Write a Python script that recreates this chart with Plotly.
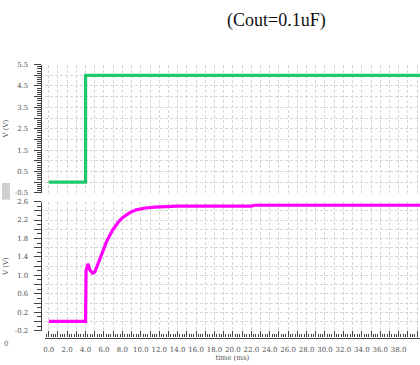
import plotly.graph_objects as go

# ---- data -------------------------------------------------------------
# Input step (green) and output voltage (magenta), time in ms
t_in = [0.0, 4.0, 4.0, 41.0]
v_in = [0.0, 0.0, 5.0, 5.0]

t_out = [0.0, 4.0, 4.05, 4.25, 4.45, 4.75, 5.0, 5.3, 5.6, 5.9, 6.3, 6.9, 7.5,
         8.0, 8.8, 9.5, 10.5, 11.5, 12.5, 14.0, 16.0, 22.0, 22.3, 41.0]
v_out = [0.0, 0.0, 1.10, 1.25, 1.12, 1.05, 1.07, 1.22, 1.38, 1.54, 1.74, 1.97,
         2.14, 2.25, 2.36, 2.42, 2.46, 2.48, 2.49, 2.50, 2.50, 2.50, 2.52, 2.52]

# tick positions / labels
x_tickvals = [float(i) for i in range(0, 42)]
x_ticktext = [f"{v:.1f}" if i % 2 == 0 else "" for i, v in enumerate(x_tickvals)]

top_tickvals = [-0.5, 0.0, 0.5, 1.0, 1.5, 2.0, 2.5, 3.0, 3.5, 4.0, 4.5, 5.0, 5.5]
top_ticktext = ["-0.5", "", "0.5", "", "1.5", "", "2.5", "", "3.5", "", "4.5", "", "5.5"]

bot_tickvals = [-0.2, 0.0, 0.2, 0.4, 0.6, 0.8, 1.0, 1.2, 1.4, 1.6, 1.8, 2.0, 2.2, 2.4, 2.6]
bot_ticktext = ["-0.2", "", "0.2", "", "0.6", "", "1.0", "", "1.4", "", "1.8", "", "2.2", "", "2.6"]

TITLE = "(Cout=0.1uF)"

# ---- geometry helpers (pixels -> paper fractions) ---------------------
W, H = 420, 365


def fx(p):
    return p / W


def fy(p):
    return 1 - p / H


GRID = "#d6d6d6"
AXC = "#444444"
LBL = "#505050"
TICKFONT = dict(family="DejaVu Serif", size=7, color=LBL)
TITLEFONT = dict(family="DejaVu Serif", size=7, color=LBL)

fig = go.Figure()
fig.add_trace(go.Scatter(x=t_out, y=v_out, mode="lines", xaxis="x", yaxis="y",
                         line=dict(color="#ff00ff", width=3.2), showlegend=False,
                         hoverinfo="skip"))
fig.add_trace(go.Scatter(x=t_in, y=v_in, mode="lines", xaxis="x2", yaxis="y2",
                         line=dict(color="#1ec86c", width=3.2), showlegend=False,
                         hoverinfo="skip"))

x_dom = [fx(43), 1.0]
x_rng = [-0.43, 40.32]

yax_common = dict(
    anchor="free", position=fx(39), tickmode="array",
    showgrid=True, gridcolor=GRID, griddash="3px,2px", gridwidth=1,
    zeroline=False, showline=True, linecolor=AXC, linewidth=1.2,
    ticks="outside", ticklen=7, tickcolor=AXC, tickwidth=1,
    ticklabelstandoff=4, tickangle=0,
    tickfont=TICKFONT,
    title=dict(text="V (V)", font=TITLEFONT, standoff=4),
)

fig.update_layout(
    width=W, height=H,
    margin=dict(l=0, r=0, t=0, b=0),
    paper_bgcolor="white", plot_bgcolor="white",
    xaxis=dict(
        domain=x_dom, range=x_rng, anchor="free", position=fy(341),
        tickmode="array", tickvals=x_tickvals, ticktext=x_ticktext,
        showgrid=True, gridcolor=GRID, griddash="3px,2px", gridwidth=1,
        zeroline=False, showline=True, linecolor=AXC, linewidth=1.2,
        ticks="inside", ticklen=6, tickcolor=AXC, tickwidth=1,
        minor=dict(dtick=0.25, ticks="inside", ticklen=3, tickcolor=AXC,
                   showgrid=False),
        ticklabelstandoff=5, tickangle=0,
        tickfont=TICKFONT,
        title=dict(text="time (ms)", font=TITLEFONT, standoff=1),
    ),
    yaxis=dict(
        domain=[fy(334), fy(202)], range=[-0.2, 2.6],
        tickvals=bot_tickvals, ticktext=bot_ticktext,
        minor=dict(dtick=0.1, ticks="outside", ticklen=4, tickcolor=AXC,
                   showgrid=False),
        **yax_common,
    ),
    xaxis2=dict(
        domain=x_dom, range=x_rng, anchor="y2", matches="x",
        tickmode="array", tickvals=x_tickvals,
        showgrid=True, gridcolor=GRID, griddash="3px,2px", gridwidth=1,
        zeroline=False, showline=False, ticks="", showticklabels=False,
    ),
    yaxis2=dict(
        domain=[fy(193), fy(62)], range=[-0.5, 5.5],
        tickvals=top_tickvals, ticktext=top_ticktext,
        minor=dict(dtick=0.1, ticks="outside", ticklen=4, tickcolor=AXC,
                   showgrid=False),
        **yax_common,
    ),
    annotations=[
        dict(text=TITLE, x=fx(276), y=fy(17), xref="paper", yref="paper",
             showarrow=False, xanchor="center", yanchor="middle",
             font=dict(family="Liberation Serif", size=18, color="#111111")),
        dict(text="0", x=fx(4), y=fy(348), xref="paper", yref="paper",
             showarrow=False, xanchor="center", yanchor="middle",
             font=dict(family="DejaVu Serif", size=7, color="#666666")),
    ],
    shapes=[
        dict(type="rect", xref="paper", yref="paper", x0=0, x1=fx(8),
             y0=fy(200), y1=fy(183), fillcolor="#cfcfcf", line=dict(width=0)),
    ],
)

fig.write_html("out.html")
